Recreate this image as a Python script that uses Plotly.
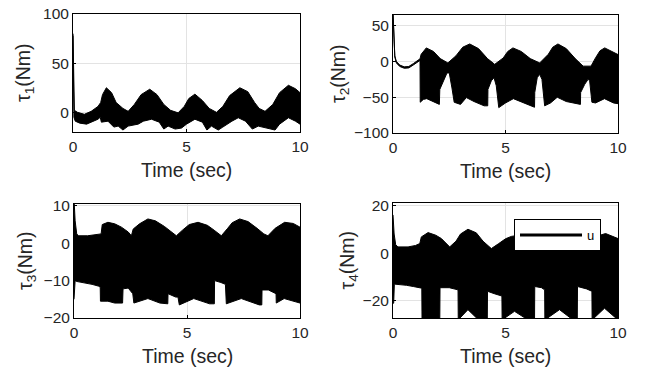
import plotly.graph_objects as go

# ---------------- data ----------------
# tau1
t1_up = [0, 0.03, 0.06, 0.2, 0.5, 0.8, 1.1, 1.22, 1.3, 1.47, 1.7, 1.9, 2.2, 2.43, 2.7, 3.0, 3.38, 3.7, 4.0, 4.3,
         4.63, 4.9, 5.1, 5.37, 5.7, 6.0, 6.32, 6.6, 6.9, 7.35, 7.7, 8.0, 8.2, 8.46, 8.8, 9.1, 9.49, 9.8, 10]
v1_up = [80, 20, 2, 0, -2, 1, 6, 10, 18, 25, 20, 10, 4, 1, 8, 18, 23.5, 18, 8, 2,
         -0.5, 6, 14, 18.5, 12, 4, 0, 6, 17, 25, 21, 10, 4, 1, 8, 20, 27.5, 24, 20]
t1_lo = [0, 0.04, 0.1, 0.3, 0.6, 0.9, 1.1, 1.2, 1.25, 1.54, 1.8, 1.99, 2.2, 2.43, 2.87, 3.1, 3.46, 3.8, 4.0, 4.19,
         4.5, 4.78, 5.0, 5.37, 5.7, 5.9, 6.1, 6.4, 6.6, 7.0, 7.28, 7.6, 7.9, 8.16, 8.5, 8.9, 9.1, 9.49, 9.8, 10]
v1_lo = [78, -5, -9, -11, -12, -9, -7, -5, -10, -9, -15, -14, -18, -14, -12, -9, -7, -10, -17, -14,
         -17, -16, -12, -7, -10, -18, -14, -18, -15, -9, -5.5, -9, -17, -14, -16, -18, -12, -5.5, -9, -12]

# tau2
t2_up = [0, 0.04, 0.08, 0.15, 0.3, 0.5, 0.7, 0.9, 1.1, 1.2, 1.25, 1.48, 1.8, 2.1, 2.44, 2.8, 3.1, 3.41, 3.8, 4.2,
         4.52, 4.9, 5.1, 5.33, 5.7, 6.1, 6.52, 6.9, 7.1, 7.33, 7.7, 8.1, 8.45, 8.8, 9.0, 9.2, 9.41, 9.8, 10]
v2_up = [70, 30, 8, 0, -5, -7.5, -7, -3, 1, 3.7, 10, 19, 14, 4, -2, 8, 20, 24.5, 18, 4,
         -4, 5, 14, 19, 14, 4, -2, 10, 20, 24.5, 18, 4, -6.5, -6.5, 5, 15, 19, 13, 9.7]
t2_lo = [0, 0.04, 0.08, 0.15, 0.3, 0.5, 0.7, 0.9, 1.1, 1.2, 1.21, 1.35, 1.5, 1.75, 2.06, 2.08, 2.25, 2.4, 2.5, 2.55,
         2.62, 2.72, 3.0, 3.26, 3.6, 4.05, 4.21, 4.22, 4.37, 4.49, 4.59, 4.70, 5.0, 5.35, 5.8, 6.29,
         6.30, 6.41, 6.52, 6.62, 6.74, 7.0, 7.3, 7.7, 8.33, 8.34, 8.52, 8.67, 8.74, 8.84, 9.0, 9.4, 9.8, 10]
v2_lo = [68, 28, 6, -2, -7, -9.5, -9, -5, -1, 1.5, -57, -53, -52, -55, -60, -39, -27, -16, -16, -25,
         -37, -57, -60, -50.5, -56, -62, -62, -39, -27, -22.6, -34, -64.5, -58, -52, -58, -64,
         -43.5, -22.6, -18, -25, -62, -58, -50, -56, -60, -43.5, -32, -25, -27, -57, -58, -52, -58, -59]

# tau3
t3_up = [0, 0.05, 0.12, 0.2, 0.6, 1.0, 1.2, 1.25, 1.5, 1.8, 2.1, 2.4, 2.54, 2.62, 2.9, 3.27, 3.6, 4.0, 4.3, 4.53,
         4.8, 5.1, 5.49, 5.9, 6.2, 6.52, 6.8, 7.0, 7.33, 7.7, 8.1, 8.4, 8.58, 8.9, 9.32, 9.7, 10]
v3_up = [12, 6, 2.5, 2, 2, 2.2, 2.5, 5, 5.6, 5.2, 4.3, 3, 2, 3.8, 5.2, 6.5, 6, 4.5, 3, 2,
         3.5, 5, 5.6, 4.8, 3.5, 2, 4, 5.5, 6.5, 5.8, 4, 2.5, 2, 4, 5.6, 5.3, 4.3]
t3_lo = [0, 0.03, 0.05, 0.1, 0.4, 0.8, 1.1, 1.16, 1.17, 1.5, 1.8, 2.15, 2.17, 2.4, 2.6, 2.65, 3.27, 3.8, 4.15, 4.16,
         4.5, 4.6, 4.66, 5.3, 6.0, 6.21, 6.22, 6.5, 6.7, 6.74, 7.4, 8.2, 8.31, 8.32, 8.6, 8.94, 8.95, 9.3, 10]
v3_lo = [-15, -15, -10, -10.2, -10.6, -11, -11.5, -11.8, -15.5, -15.5, -16, -16, -12.2, -12, -13.5, -16, -14.8, -16, -16.2, -13.5,
         -14.4, -14.4, -16.5, -14.8, -16.2, -16.2, -10, -10.5, -11, -16.2, -14.8, -16.5, -16.5, -12.5, -12.5, -13.5, -16, -14.8, -16]

# tau4
t4_up = [0, 0.05, 0.12, 0.22, 0.67, 1.0, 1.19, 1.26, 1.56, 1.9, 2.15, 2.35, 2.52, 2.8, 3.0, 3.33, 3.7, 4.0, 4.37, 4.7,
         5.0, 5.26, 5.6, 6.0, 6.45, 6.8, 7.1, 7.4, 7.8, 8.1, 8.42, 8.8, 9.2, 9.45, 9.8, 10]
v4_up = [16, 8, 3.5, 2.6, 2.6, 3.2, 4, 6.8, 8.6, 7.5, 6.1, 4, 2.6, 5, 8, 10, 8.5, 5, 1.9, 4,
         6, 7, 7.5, 5, 2.5, 5, 8.5, 10, 8.5, 5, 2.5, 5, 7.5, 8.2, 7, 6.1]
t4_lo = [0, 0.03, 0.06, 0.2, 0.6, 0.9, 1.1, 1.28, 1.29, 1.55, 1.8, 2.08, 2.09, 2.5, 2.89, 2.9, 3.33, 3.8, 4.19, 4.2,
         4.5, 4.84, 4.85, 5.4, 6.0, 6.29, 6.3, 6.6, 6.74, 6.75, 7.4, 8.0, 8.19, 8.2, 8.6, 8.84, 8.85, 9.4, 10]
v4_lo = [-21, -21, -13, -13.3, -13.5, -14, -14.5, -14.7, -28, -28, -28, -28, -14.5, -14.5, -15.4, -28, -23.7, -28, -28, -16,
         -17, -18, -28, -24.4, -28, -28, -14, -14.5, -15.4, -28, -23.7, -28, -28, -14, -15, -16, -28, -23.1, -28]

y_labels = ["τ<sub>1</sub>(Nm)", "τ<sub>2</sub>(Nm)", "τ<sub>3</sub>(Nm)", "τ<sub>4</sub>(Nm)"]
y_ranges = [[-20, 100], [-100, 65], [-20, 10.5], [-27.2, 21]]
y_ticks = [[0, 50, 100], [-100, -50, 0, 50], [-20, -10, 0, 10], [-20, 0, 20]]
x_ticks = [0, 5, 10]
x_label = "Time (sec)"
legend_name = "u"

# ---------------- figure ----------------
W, H = 650, 379
panels = [
    (t1_up, v1_up, t1_lo, v1_lo),
    (t2_up, v2_up, t2_lo, v2_lo),
    (t3_up, v3_up, t3_lo, v3_lo),
    (t4_up, v4_up, t4_lo, v4_lo),
]
# pixel boxes of plot areas: (left, right, top, bottom)
boxes = [(73, 300, 14, 132), (393, 618, 15, 133), (74, 300, 204, 318), (393, 618, 203, 318)]
ylab_x = [25, 340, 26, 348]

FONT = "Arial, Liberation Sans, sans-serif"
fig = go.Figure()
layout = dict(
    template="none",
    width=W, height=H, margin=dict(l=0, r=0, t=0, b=0, pad=0, autoexpand=False),
    paper_bgcolor="white", plot_bgcolor="white",
    font=dict(family=FONT, color="#262626", size=15),
    showlegend=True,
    legend=dict(x=514 / W, y=1 - 219 / H, xanchor="left", yanchor="top",
                bgcolor="white", bordercolor="black", borderwidth=1,
                font=dict(size=13, color="black", family=FONT), itemwidth=62,
                tracegroupgap=0),
)
annotations = []
for i, ((tu, vu, tl, vl), (l, r, tp, bt)) in enumerate(zip(panels, boxes)):
    n = "" if i == 0 else str(i + 1)
    xs = tu + tl[::-1]
    ys = vu + vl[::-1]
    fig.add_trace(go.Scatter(
        x=xs, y=ys, mode="lines", fill="toself", fillcolor="black",
        line=dict(color="black", width=1), showlegend=False,
        xaxis="x" + n, yaxis="y" + n, hoverinfo="skip"))
    ax = dict(showline=True, linecolor="black", linewidth=1, mirror=True, automargin=False,
              showgrid=True, gridcolor="#e3e3e3", gridwidth=1, zeroline=False,
              ticks="inside", ticklen=3, tickcolor="black",
              tickfont=dict(size=15.5, color="#262626", family=FONT))
    layout["xaxis" + n] = dict(ax, domain=[l / W, r / W], range=[0, 10], tickvals=x_ticks,
                               anchor="y" + n)
    layout["yaxis" + n] = dict(ax, domain=[1 - bt / H, 1 - tp / H], range=y_ranges[i],
                               tickvals=y_ticks[i], anchor="x" + n)
    annotations.append(dict(text=x_label, xref="paper", yref="paper",
                            x=(l + r) / 2 / W, y=1 - (bt + 38) / H,
                            xanchor="center", yanchor="middle", showarrow=False,
                            font=dict(size=19.5, color="#262626", family=FONT)))
    annotations.append(dict(text=y_labels[i], xref="paper", yref="paper",
                            x=ylab_x[i] / W, y=1 - (tp + bt) / 2 / H, textangle=-90,
                            xanchor="center", yanchor="middle", showarrow=False,
                            font=dict(size=19.5, color="#262626", family=FONT)))

# legend entry for the control signal in the 4th panel
fig.add_trace(go.Scatter(x=[None], y=[None], mode="lines", name=legend_name,
                         line=dict(color="black", width=3), xaxis="x4", yaxis="y4"))
layout["annotations"] = annotations
fig.update_layout(**layout)
fig.write_html("out.html", config={"displayModeBar": False},
               post_script="document.body.style.margin='0';document.body.style.padding='0';")
